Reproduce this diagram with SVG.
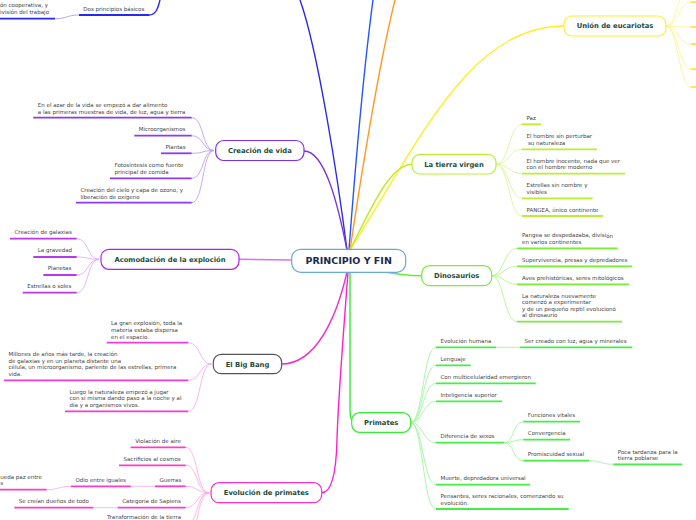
<svg xmlns="http://www.w3.org/2000/svg" width="696" height="520" viewBox="0 0 696 520">
<style>
.t{font-family:"DejaVu Sans",Verdana,sans-serif;font-size:5.5px;fill:#444}
.n{font-family:"DejaVu Sans",Verdana,sans-serif;font-weight:bold;font-size:6.8px;fill:#1b4d3e;text-anchor:middle}
.c{font-family:"DejaVu Sans",Verdana,sans-serif;font-weight:bold;font-size:9.5px;fill:#1a2a4e;text-anchor:middle}
.nb{fill:#fff;stroke-width:1.2}
path{fill:none}
.u{stroke-width:1.8;fill:none}
.k{stroke-width:0.8;fill:none}
.m{stroke-width:1.4;fill:none}
.pu{stroke:#8a3cf0}.puk{stroke:#b994f6}
.vi{stroke:#b838f0}.vik{stroke:#dca6f8}
.mg{stroke:#f03cd8}.mgk{stroke:#f7a6ea}
.pk{stroke:#ff3cc8}.pkk{stroke:#ffa6e0}
.ye{stroke:#ffee33}.yek{stroke:#fff08a}
.yg{stroke:#bbee33}.ygk{stroke:#d6f48e}
.gn{stroke:#77ee33}.gnk{stroke:#aef484}
.gr{stroke:#44ee44}.grk{stroke:#98f298}
.db{stroke:#2828ee}.dbk{stroke:#9d9df6}
</style>
<g id="connectors">
<path class="m" stroke="#2a2ae6" d="M347,250 C338,180 318,50 300,0"/>
<path class="m" stroke="#2255ff" d="M349,250 C355,170 365,60 373,0"/>
<path class="m" stroke="#ff9922" d="M350,250 C362,170 380,60 395,0"/>
<path class="m" stroke="#7733dd" d="M304,151 C325,151 338,205 347,250"/>
<path class="m" stroke="#cc77ee" d="M239,259.3 L292,260"/>
<path class="m" stroke="#ee33cc" d="M281.7,364 C315,364 336,320 347,272"/>
<path class="m" stroke="#ff22cc" d="M348,272 C343,340 338,400 337,440 C336,480 330,492.7 321.7,492.7"/>
<path class="m" stroke="#ffee22" d="M350,250 C420,140 470,26 564,26"/>
<path class="m" stroke="#bbee22" d="M350,250 C370,210 390,164.3 412,164.3"/>
<path class="m" stroke="#66ee33" d="M380,271 C395,274 405,275.7 421.7,275.7"/>
<path class="m" stroke="#33ee33" d="M350,272 L350,410 C350,418 352,422.5 356,422.5"/>
<path class="k dbk" d="M55,18.7 C67,18.7 67,15 79,15"/>
<path class="m db" d="M149,15 C156,15 158,8 160,0"/>
<path class="k puk" d="M191.7,117.7 C204,117.7 202,150.5 214,150.5"/>
<path class="k puk" d="M191.7,135.7 C204,135.7 202,150.5 214,150.5"/>
<path class="k puk" d="M191.7,153.3 C204,153.3 202,150.5 214,150.5"/>
<path class="k puk" d="M191.7,178.3 C204,178.3 202,150.5 214,150.5"/>
<path class="k puk" d="M191.7,202.7 C204,202.7 202,150.5 214,150.5"/>
<path class="k vik" d="M76.7,238.7 C89,238.7 87,259.3 99,259.3"/>
<path class="k vik" d="M76.7,257 C89,257 87,259.3 99,259.3"/>
<path class="k vik" d="M76.7,275 C89,275 87,259.3 99,259.3"/>
<path class="k vik" d="M76.7,292.7 C89,292.7 87,259.3 99,259.3"/>
<path class="k mgk" d="M188.3,342.7 C201,342.7 199,364 211.5,364"/>
<path class="k mgk" d="M188.3,380.3 C201,380.3 199,364 211.5,364"/>
<path class="k mgk" d="M188.3,411.3 C201,411.3 199,364 211.5,364"/>
<path class="k pkk" d="M185.7,447.3 C198,447.3 196,492.7 209,492.7"/>
<path class="k pkk" d="M185.7,465.3 C198,465.3 196,492.7 209,492.7"/>
<path class="k pkk" d="M185.7,486.3 C198,486.3 196,492.7 209,492.7"/>
<path class="k pkk" d="M185.7,507.7 C198,507.7 196,492.7 209,492.7"/>
<path class="k pkk" d="M185.7,526 C198,526 196,492.7 209,492.7"/>
<path class="k pkk" d="M185.7,545 C198,545 196,492.7 209,492.7"/>
<path class="k pkk" d="M130.7,486.3 C143,486.3 143,486.3 155,486.3"/>
<path class="k pkk" d="M46.7,489.7 C59,489.7 59,486.3 71,486.3"/>
<path class="k pkk" d="M93.3,507.7 C105,507.7 105,507.7 117.7,507.7"/>
<path class="k yek" d="M666,26 C676,26 676,0 684,-6"/>
<path class="k yek" d="M666,26 C678,26 679,2 691,2"/>
<path class="k yek" d="M666,26 C678,26 679,27 691,27"/>
<path class="k yek" d="M666,26 C678,26 679,44 691,44"/>
<path class="k yek" d="M666,26 C678,26 679,69 691,69"/>
<path class="k yek" d="M666,26 C678,26 679,87 691,87"/>
<path class="k ygk" d="M496,164.3 C509,164.3 509,124.3 522,124.3"/>
<path class="k ygk" d="M496,164.3 C509,164.3 509,149.3 522,149.3"/>
<path class="k ygk" d="M496,164.3 C509,164.3 509,173.7 522,173.7"/>
<path class="k ygk" d="M496,164.3 C509,164.3 509,198.3 522,198.3"/>
<path class="k ygk" d="M496,164.3 C509,164.3 509,216 522,216"/>
<path class="k gnk" d="M491.7,275.7 C504,275.7 504,248.3 517,248.3"/>
<path class="k gnk" d="M491.7,275.7 C504,275.7 504,266.3 517,266.3"/>
<path class="k gnk" d="M491.7,275.7 C504,275.7 504,284.3 517,284.3"/>
<path class="k gnk" d="M491.7,275.7 C504,275.7 504,321.7 517,321.7"/>
<path class="k grk" d="M410.7,422.5 C423,422.5 423,347.3 436,347.3"/>
<path class="k grk" d="M410.7,422.5 C423,422.5 423,365.3 436,365.3"/>
<path class="k grk" d="M410.7,422.5 C423,422.5 423,383.3 436,383.3"/>
<path class="k grk" d="M410.7,422.5 C423,422.5 423,401.3 436,401.3"/>
<path class="k grk" d="M410.7,422.5 C423,422.5 423,442.7 436,442.7"/>
<path class="k grk" d="M410.7,422.5 C423,422.5 423,484.7 436,484.7"/>
<path class="k grk" d="M410.7,422.5 C423,422.5 423,509 436,509"/>
<path class="k grk" d="M496,347.3 C508,347.3 508,347.3 520,347.3"/>
<path class="k grk" d="M504,442.7 C514,442.7 513,421.7 523.3,421.7"/>
<path class="k grk" d="M504,442.7 C514,442.7 513,439.7 523.3,439.7"/>
<path class="k grk" d="M504,442.7 C514,442.7 513,460.7 523.3,460.7"/>
<path class="k grk" d="M589,460.7 C601,460.7 601,464.3 613.3,464.3"/>
</g>

<g id="central">
<rect class="nb" x="291.7" y="249.3" width="114" height="23" rx="9" stroke="#6aaad8"/>
<text class="c" x="348.7" y="264.2">PRINCIPIO Y FIN</text>
</g>

<g id="top-left">
<text class="t" x="0" y="7.3">ón cooperativa, y</text>
<text class="t" x="0" y="13.7">ivisión del trabajo</text>
<path class="u db" d="M0,18.7 H55"/>
<text class="t" x="83.3" y="11">Dos principios básicos</text>
<path class="u db" d="M79,15 H149"/>
</g>

<g id="creacion-vida">
<rect class="nb" x="215.7" y="140.5" width="88.3" height="20" rx="8" stroke="#7b2ff0"/>
<text class="n" x="259.9" y="153">Creación de vida</text>
<text class="t" x="37.8" y="107">En el azar de la vida se empezó a dar alimento</text>
<text class="t" x="37.8" y="113.5">a las primeras muestras de vida, de luz, agua y tierra</text>
<path class="u pu" d="M33.3,117.7 H191.7"/>
<text class="t" x="138.8" y="131">Microorganismos</text>
<path class="u pu" d="M134.3,135.7 H191.7"/>
<text class="t" x="165.5" y="149">Plantas</text>
<path class="u pu" d="M161,153.3 H191.7"/>
<text class="t" x="114.5" y="167">Fotosíntesis como fuente</text>
<text class="t" x="114.5" y="174">principal de comida</text>
<path class="u pu" d="M110,178.3 H191.7"/>
<text class="t" x="80.5" y="192">Creación del cielo y capa de ozono, y</text>
<text class="t" x="80.5" y="198.7">liberación de oxígeno</text>
<path class="u pu" d="M76,202.7 H191.7"/>
</g>

<g id="acomodacion">
<rect class="nb" x="101" y="249.3" width="138" height="20" rx="8" stroke="#b020f0"/>
<text class="n" x="170" y="261.8">Acomodación de la exploción</text>
<text class="t" x="14.5" y="234">Creación de galaxias</text>
<path class="u vi" d="M10,238.7 H76.7"/>
<text class="t" x="37.8" y="251.7">La gravedad</text>
<path class="u vi" d="M33.3,257 H76.7"/>
<text class="t" x="47.8" y="269.7">Planetas</text>
<path class="u vi" d="M43.3,275 H76.7"/>
<text class="t" x="27.2" y="288.3">Estrellas o soles</text>
<path class="u vi" d="M22.7,292.7 H76.7"/>
</g>

<g id="big-bang">
<rect class="nb" x="213.3" y="354.3" width="68.4" height="19.4" rx="8" stroke="#555"/>
<text class="n" x="247.5" y="366.5">El Big Bang</text>
<text class="t" x="111" y="325">La gran explosión, toda la</text>
<text class="t" x="111" y="332">materia estaba dispersa</text>
<text class="t" x="111" y="338.5">en el espacio.</text>
<path class="u mg" d="M106.7,342.7 H188.3"/>
<text class="t" x="8.5" y="356">Millones de años más tarde, la creación</text>
<text class="t" x="8.5" y="362.7">de galaxias y en un planeta distante una</text>
<text class="t" x="8.5" y="369.3">célula, un microorganismo, pariente de las estrellas, primera</text>
<text class="t" x="8.5" y="376.3">vida.</text>
<path class="u mg" d="M4,380.3 H188.3"/>
<text class="t" x="69.5" y="393.7">Luego la naturaleza empezó a jugar</text>
<text class="t" x="69.5" y="400.3">con sí misma dando paso a la noche y al</text>
<text class="t" x="69.5" y="407">día y a organismos vivos.</text>
<path class="u mg" d="M65,411.3 H188.3"/>
</g>

<g id="evolucion-primates">
<rect class="nb" x="211" y="482.7" width="110.7" height="20" rx="8" stroke="#ff2ec8"/>
<text class="n" x="266.3" y="495.2">Evolución de primates</text>
<text class="t" x="135.2" y="443">Violación de aire</text>
<path class="u pk" d="M130.7,447.3 H185.7"/>
<text class="t" x="123.5" y="461">Sacrificios al cosmos</text>
<path class="u pk" d="M119,465.3 H185.7"/>
<text class="t" x="159.5" y="482">Guerras</text>
<path class="u pk" d="M155,486.3 H185.7"/>
<text class="t" x="75.5" y="482">Odio entre iguales</text>
<path class="u pk" d="M71,486.3 H130.7"/>
<text class="t" x="0.3" y="479">ueda paz entre</text>
<text class="t" x="0.3" y="485.2">s</text>
<path class="u pk" d="M0,489.7 H46.7"/>
<text class="t" x="122.2" y="503">Categoría de Sapiens</text>
<path class="u pk" d="M117.7,507.7 H185.7"/>
<text class="t" x="18.8" y="503">Se creían dueños de todo</text>
<path class="u pk" d="M14.3,507.7 H93.3"/>
<text class="t" x="107" y="519">Transformación de la tierra</text>
</g>

<g id="union-eucariotas">
<rect class="nb" x="564" y="16" width="102" height="20" rx="8" stroke="#ffee33"/>
<text class="n" x="615" y="28.4">Unión de eucariotas</text>
<path class="u ye" d="M691,2 H696 M691,27 H696 M691,44 H696 M691,69 H696 M691,87 H696"/>
</g>

<g id="tierra-virgen">
<rect class="nb" x="412" y="154.3" width="84" height="19.7" rx="8" stroke="#bbee33"/>
<text class="n" x="454" y="166.7">La tierra virgen</text>
<text class="t" x="526.5" y="119.7">Paz</text>
<path class="u yg" d="M522,124.3 H541"/>
<text class="t" x="526.5" y="137.7">El hombre sin perturbar</text>
<text class="t" x="528" y="144.7">su naturaleza</text>
<path class="u yg" d="M522,149.3 H597"/>
<text class="t" x="526.5" y="163">El hombre inocente, nada que ver</text>
<text class="t" x="526.5" y="169.3">con el hombre moderno</text>
<path class="u yg" d="M522,173.7 H625"/>
<text class="t" x="526.5" y="186.7">Estrellas sin nombre y</text>
<text class="t" x="526.5" y="193.7">visibles</text>
<path class="u yg" d="M522,198.3 H592.7"/>
<text class="t" x="526.5" y="211.7">PANGEA, único continente</text>
<path class="u yg" d="M522,216 H603"/>
</g>

<g id="dinosaurios">
<rect class="nb" x="421.7" y="265.7" width="70" height="20" rx="8" stroke="#77ee33"/>
<text class="n" x="456.7" y="278.2">Dinosaurios</text>
<text class="t" x="522" y="237">Pangea se despedazaba, divisi<tspan dy="1">ón</tspan></text>
<text class="t" x="522" y="243.7">en varios continentes</text>
<path class="u gn" d="M517,248.3 H617.7"/>
<text class="t" x="522" y="261.7">Supervivencia, presas y depredadores</text>
<path class="u gn" d="M517,266.3 H632"/>
<text class="t" x="522" y="279.7">Aves prehistóricas, seres mitológicos</text>
<path class="u gn" d="M517,284.3 H629"/>
<text class="t" x="522" y="298">La naturaleza nuevamente</text>
<text class="t" x="522" y="303.7">comenzó a experimentar</text>
<text class="t" x="522" y="311">y de un pequeño reptil evolucionó</text>
<text class="t" x="522" y="317">al dinosaurio</text>
<path class="u gn" d="M517,321.7 H622"/>
</g>

<g id="primates">
<rect class="nb" x="351.7" y="412.7" width="59" height="19.6" rx="8" stroke="#33ee33"/>
<text class="n" x="381.2" y="425">Primates</text>
<text class="t" x="440.5" y="343">Evolución humana</text>
<path class="u gr" d="M436,347.3 H496"/>
<text class="t" x="524.5" y="343">Ser creado con luz, agua y minerales</text>
<path class="u gr" d="M520,347.3 H632.3"/>
<text class="t" x="440.5" y="361">Lenguaje</text>
<path class="u gr" d="M436,365.3 H470.7"/>
<text class="t" x="440.5" y="379">Con multicelularidad emergieron</text>
<path class="u gr" d="M436,383.3 H535.7"/>
<text class="t" x="440.5" y="397">Inteligencia superior</text>
<path class="u gr" d="M436,401.3 H502"/>
<text class="t" x="440.5" y="438">Diferencia de sexos</text>
<path class="u gr" d="M436,442.7 H504"/>
<text class="t" x="527.8" y="417">Funciones vitales</text>
<path class="u gr" d="M523.3,421.7 H580"/>
<text class="t" x="527.8" y="435">Convergencia</text>
<path class="u gr" d="M523.3,439.7 H570"/>
<text class="t" x="527.8" y="456">Promiscuidad sexual</text>
<path class="u gr" d="M523.3,460.7 H589"/>
<text class="t" x="617.8" y="454">Poca tardanza para la</text>
<text class="t" x="617.8" y="460.3">tierra poblarse</text>
<path class="u gr" d="M613.3,464.3 H682.3"/>
<text class="t" x="440.5" y="480">Muerte, depredadora universal</text>
<path class="u gr" d="M436,484.7 H530"/>
<text class="t" x="440.5" y="498">Pensantes, seres racionales, comenzando su</text>
<text class="t" x="440.5" y="505.3">evolución.</text>
<path class="u gr" d="M436,509 H568.7"/>
</g>
</svg>
